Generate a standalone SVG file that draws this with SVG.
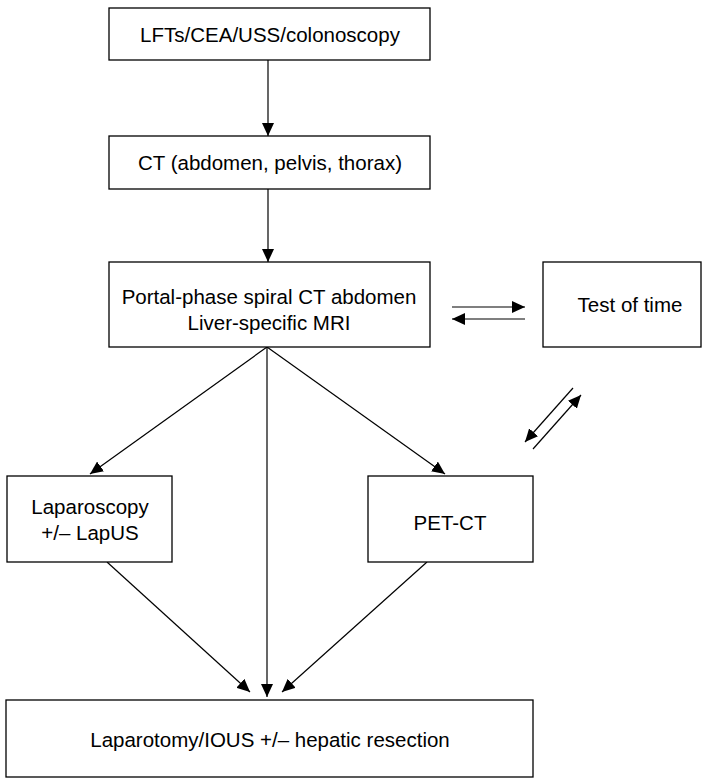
<svg xmlns="http://www.w3.org/2000/svg" width="702" height="778" viewBox="0 0 702 778">
<style>
.box{fill:#fff;stroke:#000;stroke-width:1.3}
.t{font-family:"Liberation Sans",Arial,sans-serif;font-size:20.5px;fill:#000;text-anchor:middle}
.c{stroke:#000;stroke-width:1.2;fill:none;marker-end:url(#ah)}
</style>
<defs>
<marker id="ah" markerUnits="userSpaceOnUse" markerWidth="13" markerHeight="12" refX="13" refY="6" orient="auto">
<path d="M0,0 L13,6 L0,12 z" fill="#000"/>
</marker>
</defs>
<rect width="702" height="778" fill="#fff"/>
<g id="connectors">
<line class="c" x1="268" y1="60" x2="268" y2="136"/>
<line class="c" x1="268" y1="189" x2="268" y2="262"/>
<line class="c" x1="452" y1="307" x2="525" y2="307"/>
<line class="c" x1="525" y1="319" x2="452" y2="319"/>
<line class="c" x1="573" y1="388" x2="525" y2="442"/>
<line class="c" x1="533" y1="449" x2="581" y2="395"/>
<line class="c" x1="267" y1="347" x2="90" y2="474"/>
<line class="c" x1="267" y1="347" x2="445" y2="474"/>
<line class="c" x1="267" y1="347" x2="267" y2="697"/>
<line class="c" x1="107" y1="562" x2="250" y2="692"/>
<line class="c" x1="427" y1="562" x2="282" y2="692"/>
</g>
<g id="n1">
<rect class="box" x="109" y="8" width="321" height="52"/>
<text class="t" x="270" y="42">LFTs/CEA/USS/colonoscopy</text>
</g>
<g id="n2">
<rect class="box" x="109" y="136" width="321" height="53"/>
<text class="t" x="270" y="170">CT (abdomen, pelvis, thorax)</text>
</g>
<g id="n3">
<rect class="box" x="109" y="262" width="321" height="85"/>
<text class="t" x="269" y="304">Portal-phase spiral CT abdomen</text>
<text class="t" x="269" y="330">Liver-specific MRI</text>
</g>
<g id="n4">
<rect class="box" x="543" y="262" width="158" height="85"/>
<text class="t" x="630" y="312">Test of time</text>
</g>
<g id="n5">
<rect class="box" x="7" y="476" width="165" height="86"/>
<text class="t" x="90" y="514">Laparoscopy</text>
<text class="t" x="90" y="540">+/– LapUS</text>
</g>
<g id="n6">
<rect class="box" x="368" y="476" width="165" height="86"/>
<text class="t" x="450" y="530">PET-CT</text>
</g>
<g id="n7">
<rect class="box" x="6" y="700" width="527" height="77"/>
<text class="t" x="270" y="747">Laparotomy/IOUS +/– hepatic resection</text>
</g>
</svg>
